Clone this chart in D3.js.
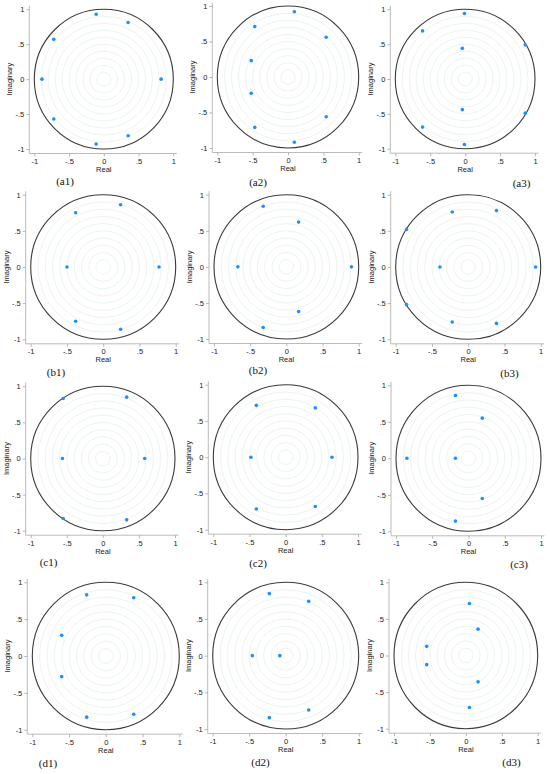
<!DOCTYPE html>
<html><head><meta charset="utf-8">
<script src="https://d3js.org/d3.v7.min.js"></script>
<style>
html,body{margin:0;padding:0;background:#fff;}
svg text{font-family:"Liberation Sans",Arial,sans-serif;}
</style></head>
<body><svg id="c" width="550" height="774"></svg>
<script>
// ---- data: roots (real, imaginary) per panel ----
const panelNames = ["(a1)","(a2)","(a3)","(b1)","(b2)","(b3)","(c1)","(c2)","(c3)","(d1)","(d2)","(d3)"];
const a1 = [[-0.11,0.93],[0.35,0.81],[-0.72,0.57],[-0.89,0],[0.825,0],[-0.72,-0.57],[0.35,-0.81],[-0.11,-0.93]];
const a2 = [[0.09,0.92],[-0.47,0.71],[0.54,0.56],[-0.52,0.23],[-0.52,-0.23],[0.54,-0.56],[-0.47,-0.71],[0.09,-0.92]];
const a3 = [[-0.01,0.94],[-0.61,0.69],[0.86,0.49],[-0.04,0.44],[-0.04,-0.44],[0.86,-0.49],[-0.61,-0.69],[-0.01,-0.94]];
const b1 = [[0.24,0.86],[-0.38,0.75],[-0.50,0],[0.77,0],[-0.38,-0.75],[0.24,-0.86]];
const b2 = [[-0.32,0.84],[0.17,0.62],[-0.67,0],[0.90,0],[0.17,-0.62],[-0.32,-0.84]];
const b3 = [[0.39,0.78],[-0.22,0.76],[-0.85,0.52],[-0.39,0],[0.93,0],[-0.85,-0.52],[-0.22,-0.76],[0.39,-0.78]];
const c1 = [[-0.55,0.83],[0.33,0.85],[-0.56,0],[0.58,0],[-0.55,-0.83],[0.33,-0.85]];
const c2 = [[-0.405,0.715],[0.41,0.68],[-0.48,0],[0.64,0],[0.41,-0.68],[-0.405,-0.715]];
const c3 = [[-0.18,0.86],[0.19,0.55],[-0.85,0],[-0.18,0],[0.19,-0.55],[-0.18,-0.86]];
const d1 = [[-0.26,0.83],[0.38,0.79],[-0.60,0.28],[-0.60,-0.28],[-0.26,-0.83],[0.38,-0.79]];
const d2 = [[-0.224,0.845],[0.315,0.74],[-0.457,0],[-0.08,0],[0.315,-0.74],[-0.224,-0.845]];
const d3data = [[0.05,0.71],[0.17,0.36],[-0.545,0.125],[-0.545,-0.125],[0.17,-0.36],[0.05,-0.71]];
const panelData = [a1,a2,a3,b1,b2,b3,c1,c2,c3,d1,d2,d3data];
const tickValues = [-1,-0.5,0,0.5,1];
const tickLabels = ["-1","-.5","0",".5","1"];
const ringRadii = [0.1,0.2,0.3,0.4,0.5,0.6,0.7,0.8,0.9];

// ---- layout (pixel frame of each panel: x-range, y-range, caption pos, clip left) ----
const layout = [
  {x:[34.3,173.3], y:[9.3,149], cap:[65,185], clip:0},
  {x:[217.3,358.7], y:[6,148], cap:[258,186], clip:182},
  {x:[395.3,535], y:[9.3,148.7], cap:[521.5,187], clip:365},
  {x:[30.7,175.7], y:[194.7,339.3], cap:[56,375.5], clip:0},
  {x:[214,358.7], y:[194.7,339], cap:[258,373.5], clip:182},
  {x:[395.7,540.7], y:[194.7,339.3], cap:[509.5,376.5], clip:365},
  {x:[30.7,175], y:[386.3,530.7], cap:[48.5,566], clip:0},
  {x:[213.3,358], y:[384.7,529.7], cap:[258,566.5], clip:182},
  {x:[396,541], y:[385.3,531.3], cap:[519,568], clip:365},
  {x:[32.3,179.3], y:[582.3,729.7], cap:[48,766.5], clip:0},
  {x:[212.7,358.7], y:[582.3,729], cap:[260.5,766], clip:182},
  {x:[394,537.7], y:[582.3,728.7], cap:[511.5,766], clip:366}
];

const svg = d3.select("#c");
const defs = svg.append("defs");
const fmt = d => tickLabels[tickValues.indexOf(d)];

panelData.forEach((pts, i) => {
  const L = layout[i];
  const xs = d3.scaleLinear().domain([-1,1]).range(L.x);
  const ys = d3.scaleLinear().domain([1,-1]).range(L.y);
  defs.append("clipPath").attr("id","cl"+i).append("rect")
    .attr("x",L.clip).attr("y",0).attr("width",200).attr("height",774);
  const g = svg.append("g").attr("clip-path","url(#cl"+i+")");
  const axX = L.x[0]-5, axY = L.y[1]+4.5;

  // rings
  g.selectAll(".ring").data(ringRadii).join("ellipse")
    .attr("cx",xs(0)).attr("cy",ys(0))
    .attr("rx",r=>xs(r)-xs(0)).attr("ry",r=>ys(0)-ys(r))
    .attr("fill","none").attr("stroke","#e2eeee").attr("stroke-width",0.7);
  // unit circle
  g.append("ellipse").attr("cx",xs(0)).attr("cy",ys(0))
    .attr("rx",xs(1)-xs(0)).attr("ry",ys(0)-ys(1))
    .attr("fill","none").attr("stroke","#3a3a3a").attr("stroke-width",1.1);

  // axes
  const xAxis = d3.axisBottom(xs).tickValues(tickValues).tickFormat(fmt).tickSize(3).tickPadding(2);
  const yAxis = d3.axisLeft(ys).tickValues(tickValues).tickFormat(fmt).tickSize(3).tickPadding(2);
  const gx = g.append("g").attr("transform",`translate(0,${axY})`).call(xAxis);
  const gy = g.append("g").attr("transform",`translate(${axX},0)`).call(yAxis);
  [gx,gy].forEach(a=>{
    a.select(".domain").remove();
    a.selectAll(".tick line").attr("stroke","#999").attr("stroke-width",0.7);
    a.selectAll(".tick text").attr("fill","#222").style("font-size","7.5px");
  });
  g.append("line").attr("x1",axX).attr("x2",L.x[1]+3.5).attr("y1",axY).attr("y2",axY)
    .attr("stroke","#aaa").attr("stroke-width",0.8);
  g.append("line").attr("x1",axX).attr("x2",axX).attr("y1",L.y[0]-3.5).attr("y2",axY)
    .attr("stroke","#aaa").attr("stroke-width",0.8);

  // titles
  g.append("text").attr("x",xs(0)).attr("y",axY+18.5).attr("text-anchor","middle")
    .attr("fill","#222").style("font-size","7.5px").text("Real");
  g.append("text").attr("transform",`translate(${axX-17},${ys(0)}) rotate(-90)`)
    .attr("text-anchor","middle").attr("fill","#222").style("font-size","7.5px").text("Imaginary");

  // points
  g.selectAll(".pt").data(pts).join("circle")
    .attr("cx",d=>xs(d[0])).attr("cy",d=>ys(d[1])).attr("r",1.8)
    .attr("fill","#1f8fff");

  // caption
  svg.append("text").attr("x",L.cap[0]).attr("y",L.cap[1]).attr("text-anchor","middle")
    .style("font-family",'"Liberation Serif","Times New Roman",serif').style("font-size","11px")
    .attr("fill","#111").text(panelNames[i]);
});
</script></body></html>
